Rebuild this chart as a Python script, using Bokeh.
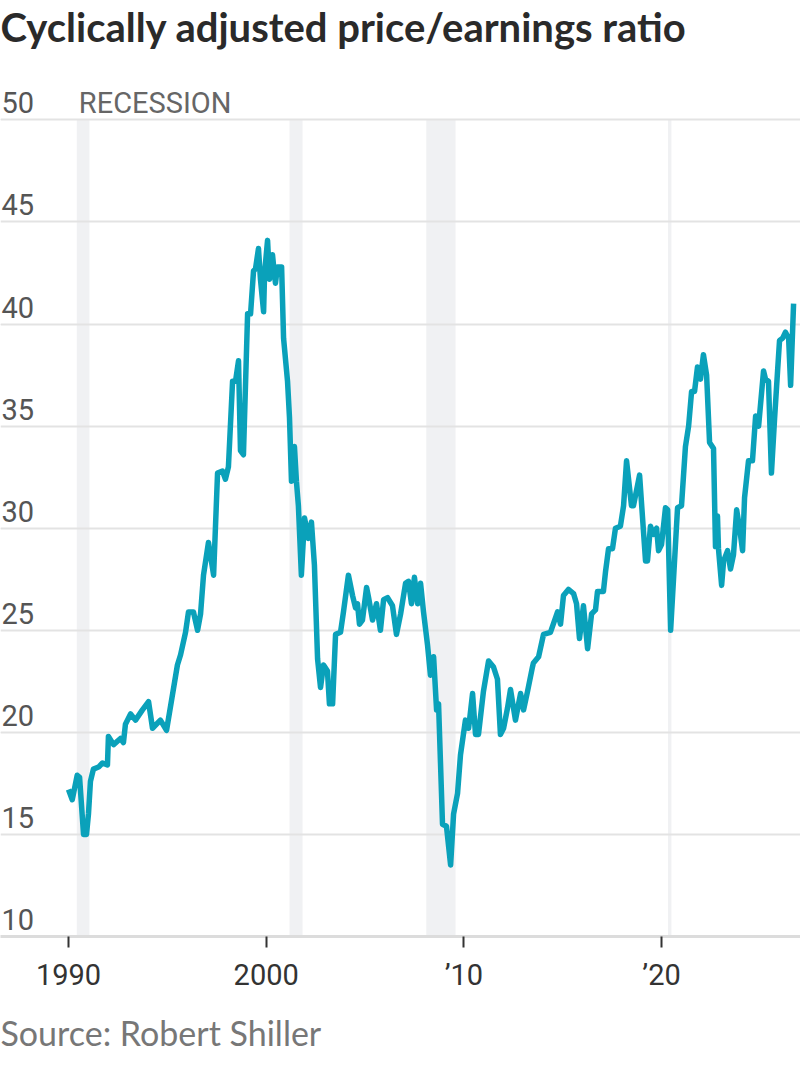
from bokeh.plotting import figure
from bokeh.models import Range1d, FixedTicker, Grid, Title
from bokeh.core.properties import value
from bokeh.embed import file_html
from bokeh.resources import INLINE

# ---- data ----
years = [
    1990.00, 1990.19, 1990.44, 1990.56, 1990.76, 1990.91, 1991.01, 1991.11, 1991.26, 1991.52,
    1991.72, 1991.97, 1992.02, 1992.28, 1992.63, 1992.78, 1992.88, 1993.14, 1993.39, 1993.74,
    1994.05, 1994.25, 1994.65, 1994.96, 1995.51, 1995.67, 1995.92, 1996.07, 1996.32, 1996.53,
    1996.68, 1996.83, 1997.08, 1997.34, 1997.54, 1997.79, 1997.94, 1998.09, 1998.30, 1998.45,
    1998.60, 1998.70, 1998.85, 1999.06, 1999.21, 1999.36, 1999.46, 1999.61, 1999.71, 1999.87,
    1999.92, 2000.07, 2000.17, 2000.32, 2000.38, 2000.47, 2000.57, 2000.78, 2000.88, 2001.08,
    2001.18, 2001.28, 2001.43, 2001.53, 2001.63, 2001.78, 2001.94, 2002.14, 2002.29, 2002.44,
    2002.60, 2002.75, 2002.90, 2003.10, 2003.20, 2003.36, 2003.51, 2003.76, 2003.91, 2004.16,
    2004.37, 2004.52, 2004.62, 2004.72, 2004.87, 2005.08, 2005.18, 2005.38, 2005.58, 2005.78,
    2005.94, 2006.14, 2006.39, 2006.59, 2006.80, 2007.05, 2007.20, 2007.35, 2007.50, 2007.66,
    2007.81, 2007.96, 2008.16, 2008.31, 2008.47, 2008.62, 2008.72, 2008.92, 2009.12, 2009.33,
    2009.48, 2009.68, 2009.83, 2010.08, 2010.24, 2010.44, 2010.59, 2010.74, 2010.99, 2011.25,
    2011.50, 2011.70, 2011.85, 2012.01, 2012.21, 2012.36, 2012.61, 2012.87, 2013.02, 2013.22,
    2013.47, 2013.52, 2013.78, 2014.03, 2014.38, 2014.74, 2014.89, 2015.04, 2015.29, 2015.55,
    2015.70, 2015.85, 2016.05, 2016.26, 2016.46, 2016.66, 2016.76, 2017.06, 2017.17, 2017.32,
    2017.52, 2017.67, 2017.92, 2018.08, 2018.23, 2018.48, 2018.58, 2018.89, 2019.19, 2019.29,
    2019.44, 2019.59, 2019.75, 2019.85, 2020.00, 2020.20, 2020.31, 2020.46, 2020.81, 2021.01,
    2021.21, 2021.37, 2021.52, 2021.67, 2021.82, 2021.97, 2022.12, 2022.28, 2022.43, 2022.63,
    2022.73, 2022.83, 2022.88, 2023.04, 2023.14, 2023.34, 2023.49, 2023.64, 2023.80, 2023.95,
    2024.10, 2024.20, 2024.40, 2024.60, 2024.76, 2024.91, 2025.16, 2025.26, 2025.41, 2025.56,
    2025.72, 2025.87, 2025.97, 2026.12, 2026.27, 2026.43, 2026.53, 2026.68,
]
cape = [
    17.2, 16.7, 17.9, 17.8, 15.0, 15.0, 16.0, 17.6, 18.2, 18.3,
    18.5, 18.4, 19.8, 19.4, 19.7, 19.5, 20.4, 20.9, 20.6, 21.1,
    21.5, 20.2, 20.6, 20.1, 23.3, 23.8, 24.9, 25.9, 25.9, 25.0,
    25.8, 27.7, 29.3, 27.7, 32.7, 32.8, 32.4, 33.0, 37.2, 37.2,
    38.2, 33.8, 33.6, 40.5, 40.5, 42.6, 42.7, 43.7, 42.2, 40.6,
    42.5, 44.1, 42.2, 43.4, 42.8, 42.0, 42.8, 42.8, 39.3, 37.2,
    35.4, 32.3, 34.0, 32.3, 31.1, 27.7, 30.5, 29.5, 30.3, 28.2,
    23.6, 22.2, 23.3, 23.0, 21.4, 21.4, 24.8, 24.9, 25.9, 27.7,
    26.7, 26.1, 26.3, 25.3, 25.5, 27.1, 26.6, 25.5, 26.3, 25.0,
    26.5, 26.6, 26.2, 24.8, 25.8, 27.3, 27.4, 26.3, 27.6, 26.3,
    27.3, 25.9, 24.3, 22.8, 23.7, 21.1, 21.4, 15.5, 15.4, 13.5,
    16.0, 17.0, 18.9, 20.6, 20.2, 21.9, 19.9, 19.9, 22.0, 23.5,
    23.2, 22.6, 19.9, 20.2, 21.2, 22.1, 20.6, 21.9, 21.1, 22.0,
    23.2, 23.4, 23.7, 24.8, 24.9, 25.9, 25.3, 26.7, 27.0, 26.8,
    26.3, 24.6, 26.2, 24.1, 25.8, 26.0, 26.9, 26.9, 27.9, 29.0,
    29.0, 30.0, 30.1, 31.1, 33.3, 31.1, 31.1, 32.6, 28.4, 28.4,
    30.1, 29.7, 30.0, 28.9, 29.2, 31.0, 30.9, 25.0, 31.0, 31.1,
    34.0, 35.0, 36.7, 36.7, 37.9, 37.3, 38.5, 37.5, 34.2, 33.9,
    29.1, 30.6, 29.0, 27.2, 28.4, 28.9, 28.0, 28.7, 30.9, 30.0,
    28.9, 31.5, 33.3, 33.3, 35.5, 35.0, 37.7, 37.3, 37.2, 32.7,
    35.4, 37.7, 39.2, 39.3, 39.6, 39.3, 37.0, 41.0,
]

recession_start = [1990.42, 2001.18, 2008.10, 2020.33]
recession_end = [1991.06, 2001.84, 2009.58, 2020.50]

y_ticks = [10, 15, 20, 25, 30, 35, 40, 45, 50]
y_labels = ["10", "15", "20", "25", "30", "35", "40", "45", "50"]
x_ticks = [1990, 2000, 2010, 2020]
x_labels = {1990: "1990", 2000: "2000", 2010: "\u201910", 2020: "\u201920"}

title_text = "Cyclically adjusted price/earnings ratio"
source_text = "Source: Robert Shiller"
recession_label = "RECESSION"

LINE_COLOR = "#0aa1ba"
BAND_COLOR = "#f0f1f3"
GRID_COLOR = "#e3e3e3"

# frame spans the full canvas width and from the top of the canvas to the axis
x_start, x_end = 1986.56, 2027.03
y_start, y_end = 10, 55.85

p = figure(
    width=800, height=1067,
    output_backend="svg", toolbar_location=None,
    x_range=Range1d(x_start, x_end), y_range=Range1d(y_start, y_end),
    y_axis_location=None,
    min_border_left=0, min_border_right=0,
    min_border_top=0, min_border_bottom=127,
)
p.outline_line_color = None
p.background_fill_color = "white"
p.border_fill_color = "white"
p.xgrid.visible = False

# recession bands
bands = p.quad(left=recession_start, right=recession_end, bottom=10, top=50,
               fill_color=BAND_COLOR, line_color=None)
bands.level = "image"

# horizontal grid
grid = Grid(dimension=1, ticker=FixedTicker(ticks=y_ticks),
            grid_line_color=GRID_COLOR, grid_line_width=2)
p.add_layout(grid)

# x axis
ax = p.xaxis[0]
ax.ticker = FixedTicker(ticks=x_ticks)
ax.major_label_overrides = x_labels
ax.axis_line_color = "#dcdcdc"
ax.axis_line_width = 3
ax.major_tick_in = 0
ax.major_tick_out = 11
ax.major_tick_line_color = "#333333"
ax.major_tick_line_width = 2
ax.minor_tick_line_color = None
ax.major_label_text_font = "Roboto"
ax.major_label_text_font_size = "29px"
ax.major_label_text_color = "#333333"
ax.major_label_standoff = 10

# line
p.line(years, cape, line_color=LINE_COLOR, line_width=5.5, line_join="round")

# y labels
p.text(x=[x_start] * len(y_ticks), y=y_ticks, text=y_labels,
       text_font=value("Roboto"), text_font_size="29px", text_color="#555555",
       text_baseline="alphabetic", text_align="left", x_offset=1, y_offset=-17)

# recession label
p.text(x=[recession_start[0]], y=[50], text=[recession_label],
       text_font=value("Roboto"), text_font_size="29px", text_color="#666666",
       text_baseline="alphabetic", text_align="left", x_offset=2, y_offset=-17)

# chart title, anchored at the top-left corner of the frame
p.text(x=[x_start], y=[y_end], text=[title_text],
       text_font=value("Lato"), text_font_size="40px", text_font_style="bold",
       text_color="#2a2a2a", text_baseline="alphabetic", text_align="left",
       x_offset=0, y_offset=26)

# source line under the axis
src = Title(text=source_text, align="left", text_font="Lato",
            text_font_size="34px", text_font_style="normal", text_color="#777777",
            offset=0, standoff=30)
p.add_layout(src, "below")

open("out.html", "w").write(file_html(p, INLINE))
